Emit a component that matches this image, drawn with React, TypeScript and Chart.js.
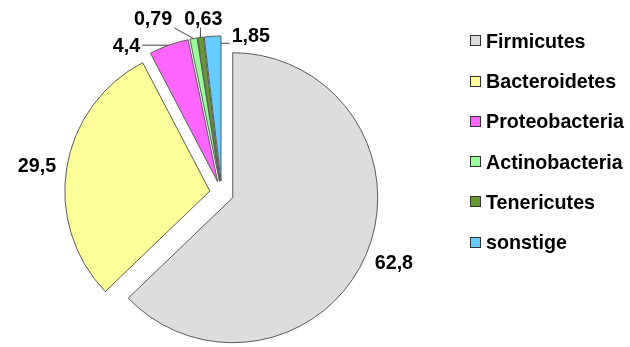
import { useEffect, useRef } from 'react';
import { Chart, registerables } from 'chart.js';

Chart.register(...registerables);

const categories = ['Firmicutes', 'Bacteroidetes', 'Proteobacteria', 'Actinobacteria', 'Tenericutes', 'sonstige'];
const shares = [62.8, 29.5, 4.4, 0.79, 0.63, 1.85];
const sliceColors = ['#DDDDDD', '#FFFF99', '#FF66FF', '#99FF99', '#669933', '#66CCFF'];

// label layout helpers (not data)
const labelShift = [[0, 0], [0, 0], [-34, 17], [-35, -2], [7, -1], [40, 17]];
const leaderAt: (null | [number, number])[] = [null, null, [0.5, 1], [0.5, 1], [0.5, 1], [1, 0.95]];

const FONT_SIZE = 19.7;
const FONT_FAMILY = '"Liberation Sans", Arial, Helvetica, sans-serif';
const FONT = `bold ${FONT_SIZE}px ${FONT_FAMILY}`;
const EXPLODE = 12;
const CAP = 0.716 * FONT_SIZE;

const fmt = (v: number) => String(v).replace('.', ',');

const piePlugin = {
  id: 'explodedPie',
  beforeDatasetDraw(chart: any, args: any) {
    const ctx = chart.ctx;
    args.meta.data.forEach((el: any) => {
      const mid = (el.startAngle + el.endAngle) / 2;
      ctx.save();
      ctx.translate(Math.cos(mid) * EXPLODE, Math.sin(mid) * EXPLODE);
      el.draw(ctx, chart.chartArea);
      ctx.restore();
    });
    return false;
  },
  afterDatasetsDraw(chart: any) {
    const ctx = chart.ctx;
    const meta = chart.getDatasetMeta(0);
    ctx.save();
    ctx.font = FONT;
    ctx.textAlign = 'center';
    ctx.textBaseline = 'alphabetic';
    ctx.fillStyle = '#000';
    ctx.strokeStyle = '#444';
    ctx.lineWidth = 1;
    meta.data.forEach((el: any, i: number) => {
      const { x, y, outerRadius: r, startAngle, endAngle } = el;
      const mid = (startAngle + endAngle) / 2;
      const dx = Math.cos(mid);
      const dy = Math.sin(mid);
      const vx = x + dx * EXPLODE;
      const vy = y + dy * EXPLODE;
      const text = fmt(shares[i]);
      const w = ctx.measureText(text).width;
      const h = 15;
      const cx = vx + dx * (r + 11) + (dx * w) / 2 + labelShift[i][0];
      const cy = vy + dy * (r + 11) + (dy * h) / 2 + labelShift[i][1];
      const la = leaderAt[i];
      if (la) {
        const a = startAngle + (endAngle - startAngle) * la[0];
        const tx = vx + Math.cos(a) * r * la[1];
        const ty = vy + Math.sin(a) * r * la[1];
        const sx = Math.min(Math.max(tx, cx - w / 2 - 2), cx + w / 2 + 2);
        const sy = Math.min(Math.max(ty, cy - h / 2 - 2), cy + h / 2 + 2);
        ctx.beginPath();
        ctx.moveTo(sx, sy);
        ctx.lineTo(tx, ty);
        ctx.stroke();
      }
      ctx.fillText(text, cx, cy + CAP / 2);
    });
    ctx.restore();
  },
  afterDraw(chart: any) {
    const ctx = chart.ctx;
    const labels = chart.data.labels as string[];
    const colors = chart.data.datasets[0].backgroundColor as string[];
    const boxX = 470.5;
    const textX = 486;
    const y0 = 40.7;
    const step = 40.3;
    ctx.save();
    ctx.font = FONT;
    ctx.textAlign = 'left';
    ctx.textBaseline = 'alphabetic';
    labels.forEach((lab, i) => {
      const cy = y0 + i * step;
      ctx.fillStyle = colors[i];
      ctx.fillRect(boxX, Math.round(cy - 5.5) + 0.5, 10, 10);
      ctx.strokeStyle = '#333';
      ctx.lineWidth = 1;
      ctx.strokeRect(boxX, Math.round(cy - 5.5) + 0.5, 10, 10);
      ctx.fillStyle = '#000';
      ctx.fillText(lab, textX, cy + CAP / 2);
    });
    ctx.restore();
  },
};

export default function App() {
  const canvasRef = useRef<HTMLCanvasElement | null>(null);
  useEffect(() => {
    if (!canvasRef.current) return;
    const chart = new Chart(canvasRef.current, {
      type: 'pie',
      data: {
        labels: categories,
        datasets: [
          {
            data: shares,
            backgroundColor: sliceColors,
            borderColor: '#5a5a5a',
            borderWidth: 1,
            radius: 145,
          } as any,
        ],
      },
      options: {
        responsive: true,
        maintainAspectRatio: false,
        animation: false,
        layout: { padding: { left: 0, right: 186.6, top: 39, bottom: 0 } },
        plugins: {
          legend: { display: false },
          tooltip: { enabled: false },
        },
      },
      plugins: [piePlugin as any],
    });
    return () => chart.destroy();
  }, []);
  return (
    <div style={{ position: 'absolute', left: 0, top: 0, width: 630, height: 347, background: '#fff' }}>
      <canvas ref={canvasRef} />
    </div>
  );
}
